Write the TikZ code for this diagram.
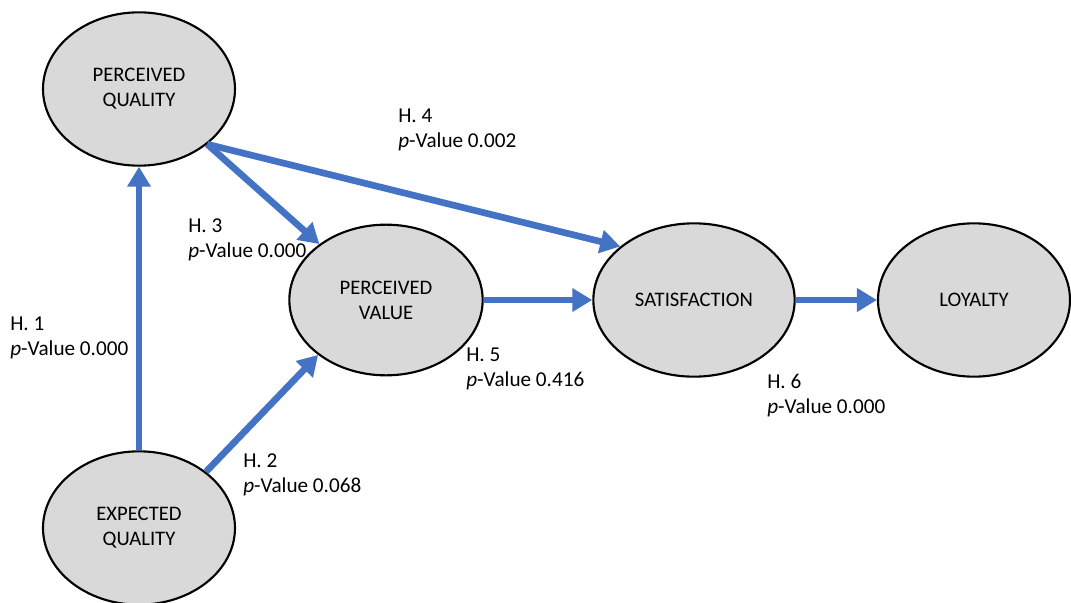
\documentclass[tikz,border=0pt]{standalone}
\usepackage{fontspec}
\setmainfont{Carlito}
\usetikzlibrary{arrows.meta,shapes.geometric}
\definecolor{arrowblue}{HTML}{4472C4}
\definecolor{nodegray}{HTML}{D9D9D9}
\tikzset{
  construct/.style={ellipse, draw=black, line width=1.6pt, fill=nodegray,
    minimum width=144pt, minimum height=115pt, align=center, inner sep=0pt,
    font=\fontsize{15.5}{18.75}\selectfont},
  hpath/.style={draw=arrowblue, line width=5pt,
    -{Triangle[length=15pt,width=17pt]}},
  hyp/.style={anchor=base west, align=left, inner sep=0pt,
    font=\fontsize{15.9}{18.75}\selectfont}
}
\begin{document}
\begin{tikzpicture}[x=0.75pt,y=-0.75pt]
\useasboundingbox (0,0) rectangle (1071,603);
\node[construct] (pq) at (139,89) {PERCEIVED\\QUALITY};
\node[construct] (eq) at (139,528) {EXPECTED\\QUALITY};
\node[construct, minimum width=145pt, minimum height=113pt] (pv) at (386,300) {PERCEIVED\\VALUE};
\node[construct, minimum width=151pt] (sat) at (694,300) {SATISFACTION};
\node[construct] (loy) at (974,300) {LOYALTY};

\draw[hpath] (eq.north) -- (pq.south);
\draw[hpath] (eq.40) -- (pv.219);
\draw[hpath] (pq.-39) -- (pv.140);
\draw[hpath] (pq.-39) -- (sat.144);
\draw[hpath] (pv.east) -- (sat.west);
\draw[hpath] (sat.east) -- (loy.west);

\node[hyp] (h1) at (10,355) {H. 1\\\textit{p}-Value 0.000};
\node[hyp] (h2) at (243,492) {H. 2\\\textit{p}-Value 0.068};
\node[hyp] (h3) at (188,257) {H. 3\\\textit{p}-Value 0.000};
\node[hyp] (h4) at (398,147) {H. 4\\\textit{p}-Value 0.002};
\node[hyp] (h5) at (466,386) {H. 5\\\textit{p}-Value 0.416};
\node[hyp] (h6) at (767,413) {H. 6\\\textit{p}-Value 0.000};
\end{tikzpicture}
\end{document}
